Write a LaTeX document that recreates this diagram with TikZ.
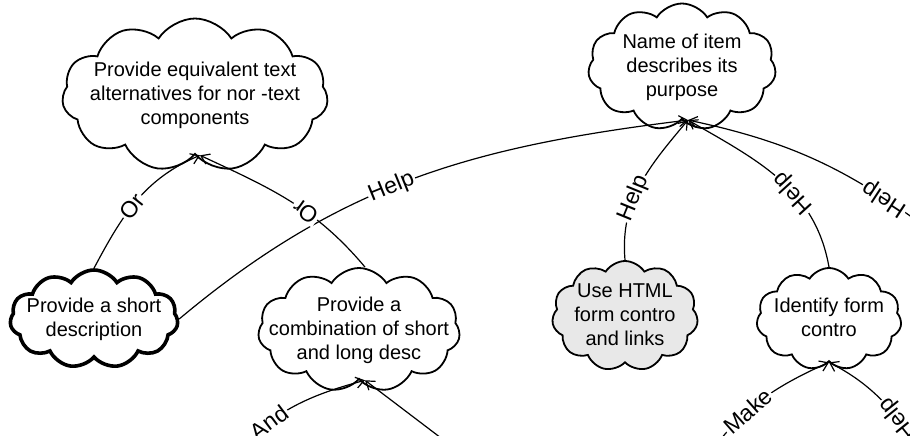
\documentclass[tikz,border=0pt]{standalone}
\usepackage{fontspec}
\setmainfont{Liberation Sans}
\usetikzlibrary{shapes.symbols,arrows.meta}
\newcommand{\cltext}[1]{\raisebox{-6pt}[0pt][0pt]{\makebox[0pt][c]{\begin{tabular}{@{}c@{}}#1\end{tabular}}}}
\begin{document}
\begin{tikzpicture}[x=1pt,y=1pt,
  cl/.style={cloud, cloud puffs=11, cloud puff arc=115, cloud ignores aspect, draw, line width=1.8pt, inner sep=0pt, font=\fontsize{20}{24}\selectfont},
  thickcloud/.style={cl, line width=3.6pt},
  conn/.style={line width=1.2pt, -{Straight Barb[length=8pt,width=11pt]}},
  lab/.style={fill=white, sloped, allow upside down, font=\fontsize{23}{26}\selectfont, inner sep=1.5pt}
]
\useasboundingbox (0,0) rectangle (910,-436);
\clip (0,0) rectangle (910,-436);

\node[cl, minimum width=266, minimum height=153] (A) at (195,-95) {\cltext{Provide equivalent text\\alternatives for nor -text\\components}};
\node[cl, minimum width=188, minimum height=127] (B) at (682,-67) {\cltext{Name of item\\describes its\\purpose}};
\node[thickcloud, minimum width=168, minimum height=98] (C) at (94,-319) {\cltext{Provide a short\\description}};
\node[cl, minimum width=202, minimum height=124] (D) at (359,-330) {\cltext{Provide a\\combination of short\\and long desc}};
\node[cl, fill=black!9, minimum width=146, minimum height=110] (E) at (625,-316) {\cltext{Use HTML\\form contro\\and links}};
\node[cl, minimum width=145, minimum height=102] (F) at (829,-319) {\cltext{Identify form\\contro}};

\coordinate (R1) at (932,-232);
\coordinate (R2) at (230,-460);
\coordinate (R3) at (470,-460);
\coordinate (R4) at (705,-460);
\coordinate (R5) at (935,-470);

\draw[conn] (C.north) to[out=62,in=203] node[lab,pos=0.45]{Or} ([xshift=5]A.south);
\draw[conn] (C.east) to[out=40,in=187] node[lab,pos=0.45]{Help} ([xshift=6]B.south);
\draw[conn] ([xshift=6]D.north) to[out=130,in=-25] node[lab,pos=0.4]{Or} ([xshift=5]A.south);
\draw[conn] (E.north) to[out=95,in=230] node[lab,pos=0.4]{Help} ([xshift=6]B.south);
\draw[conn] (F.north) to[out=100,in=-30] node[lab,pos=0.4]{Help} ([xshift=6]B.south);
\draw[conn] (R1) to[out=143,in=-12] node[lab,pos=0.2]{Help} ([xshift=6]B.south);
\draw[conn] (R2) to[out=50,in=195] node[lab,pos=0.33]{And} ([xshift=6]D.south);
\draw[conn] (R3) -- ([xshift=6]D.south);
\draw[conn] (R4) to[out=55,in=204] node[lab,pos=0.4]{Make} (F.south);
\draw[conn] (R5) to[out=125,in=-27] node[lab,pos=0.4]{Help} (F.south);
\end{tikzpicture}
\end{document}
